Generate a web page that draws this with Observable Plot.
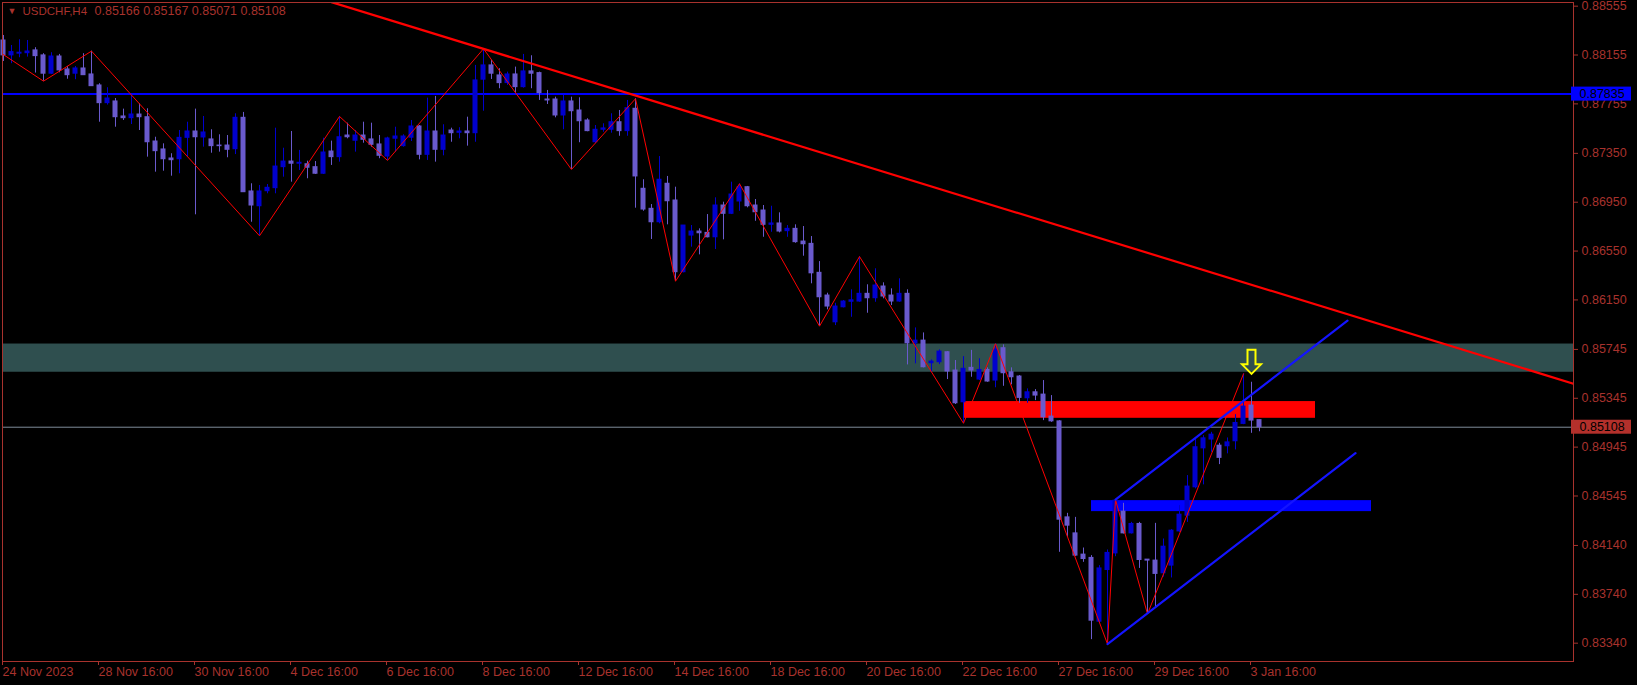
<!DOCTYPE html>
<html><head><meta charset="utf-8">
<script src="https://cdn.jsdelivr.net/npm/d3@7"></script>
<script src="https://cdn.jsdelivr.net/npm/@observablehq/plot@0.6"></script>
<style>
html,body{margin:0;padding:0;background:#000;}
#chart{width:1637px;height:685px;overflow:hidden;}
</style></head><body><div id="chart"></div>
<script>
// ---- data (USDCHF H4, bar index 0 = 24 Nov 2023 16:00) ----
const opens = [0.88274,0.88152,0.88166,0.88170,0.88193,0.88152,0.88002,0.88143,0.88037,0.88002,
0.88045,0.87996,0.87906,0.87761,0.87775,0.87652,0.87638,0.87668,0.87646,0.87447,
0.87382,0.87308,0.87302,0.87477,0.87529,0.87480,0.87464,0.87414,0.87414,0.87384,
0.87641,0.87038,0.86917,0.87040,0.87065,0.87237,0.87283,0.87265,0.87261,0.87237,
0.87183,0.87365,0.87319,0.87496,0.87453,0.87496,0.87464,0.87423,0.87324,0.87470,
0.87409,0.87478,0.87570,0.87338,0.87529,0.87379,0.87537,0.87518,0.87529,0.87515,
0.87953,0.88070,0.87988,0.87925,0.87996,0.87892,0.88021,0.88007,0.87791,0.87791,
0.87660,0.87775,0.87701,0.87619,0.87441,0.87543,0.87543,0.87605,0.87532,0.87715,
0.87060,0.86896,0.86786,0.87101,0.86964,0.86377,0.86677,0.86710,0.86699,0.86663,
0.86923,0.86855,0.86956,0.87073,0.86923,0.86882,0.86765,0.86776,0.86713,0.86732,
0.86628,0.86609,0.86372,0.86186,0.85967,0.86090,0.86135,0.86137,0.86200,0.86164,
0.86260,0.86186,0.86137,0.86200,0.85795,0.85817,0.85632,0.85640,0.85722,0.85572,
0.85312,0.85594,0.85498,0.85577,0.85490,0.85755,0.85558,0.85523,0.85345,0.85394,
0.85375,0.85195,0.85156,0.84370,0.84239,0.84065,0.84038,0.83516,0.83939,0.84075,
0.84417,0.84239,0.84316,0.84024,0.84016,0.83912,0.83975,0.84255,0.84384,0.84616,
0.84935,0.85007,0.84957,0.84952,0.84993,0.85135,0.85285,0.85166];
const highs = [0.88315,0.88233,0.88280,0.88274,0.88215,0.88166,0.88174,0.88160,0.88061,0.88061,
0.88166,0.88187,0.87920,0.87887,0.87799,0.87712,0.87832,0.87756,0.87715,0.87482,
0.87428,0.87347,0.87537,0.87605,0.87712,0.87652,0.87543,0.87502,0.87496,0.87674,
0.87685,0.87101,0.87087,0.87095,0.87556,0.87392,0.87529,0.87374,0.87286,0.87283,
0.87474,0.87450,0.87652,0.87597,0.87537,0.87605,0.87597,0.87496,0.87482,0.87564,
0.87502,0.87619,0.87578,0.87802,0.87816,0.87584,0.87556,0.87560,0.87646,0.88070,
0.88206,0.88111,0.88043,0.88015,0.88056,0.88160,0.88149,0.88015,0.87865,0.87810,
0.87824,0.87810,0.87805,0.87633,0.87578,0.87592,0.87674,0.87701,0.87783,0.87797,
0.87134,0.86931,0.87324,0.87161,0.87073,0.86759,0.86759,0.86732,0.86849,0.86986,
0.86950,0.87114,0.87101,0.87079,0.86972,0.86923,0.86917,0.86863,0.86759,0.86765,
0.86751,0.86669,0.86464,0.86205,0.86123,0.86145,0.86233,0.86505,0.86274,0.86405,
0.86290,0.86241,0.86323,0.86233,0.85921,0.85880,0.85659,0.85741,0.85727,0.85654,
0.85686,0.85737,0.85668,0.85594,0.85791,0.85782,0.85594,0.85531,0.85422,0.85416,
0.85490,0.85367,0.85162,0.84403,0.84370,0.84119,0.84057,0.83975,0.84103,0.84515,
0.84485,0.84329,0.84329,0.84024,0.84321,0.84193,0.84270,0.84466,0.84712,0.85012,
0.85039,0.85066,0.84976,0.85020,0.85211,0.85545,0.85476,0.85167];
const lows = [0.88102,0.88084,0.88133,0.88138,0.88007,0.87941,0.87996,0.88010,0.87957,0.87953,
0.87988,0.87898,0.87605,0.87745,0.87564,0.87619,0.87586,0.87537,0.87319,0.87196,
0.87204,0.87163,0.87183,0.87319,0.86847,0.87401,0.87351,0.87360,0.87314,0.87340,
0.87030,0.86786,0.86675,0.87019,0.87019,0.87155,0.87114,0.87210,0.87142,0.87177,
0.87177,0.87251,0.87278,0.87469,0.87360,0.87433,0.87401,0.87306,0.87292,0.87360,
0.87401,0.87447,0.87297,0.87292,0.87278,0.87330,0.87441,0.87469,0.87409,0.87441,
0.87695,0.87955,0.87879,0.87906,0.87843,0.87884,0.87879,0.87783,0.87750,0.87641,
0.87543,0.87218,0.87437,0.87527,0.87428,0.87523,0.87515,0.87490,0.87490,0.86901,
0.86876,0.86645,0.86773,0.86765,0.86303,0.86372,0.86582,0.86519,0.86658,0.86563,
0.86642,0.86849,0.86876,0.86904,0.86794,0.86663,0.86704,0.86699,0.86663,0.86614,
0.86508,0.86282,0.85935,0.86069,0.85940,0.86085,0.86008,0.86131,0.86041,0.86131,
0.86159,0.86104,0.86131,0.85618,0.85627,0.85594,0.85558,0.85621,0.85498,0.85294,
0.85140,0.85517,0.85490,0.85476,0.85431,0.85443,0.85455,0.85304,0.85304,0.85326,
0.85162,0.85148,0.84084,0.84206,0.84051,0.84002,0.83369,0.83510,0.83333,0.84048,
0.84234,0.84234,0.83952,0.83579,0.83628,0.83880,0.83874,0.84247,0.84329,0.84603,
0.84636,0.84903,0.84802,0.84890,0.84922,0.85129,0.85058,0.85071];
const closes = [0.88152,0.88179,0.88174,0.88184,0.88146,0.88002,0.88143,0.88029,0.87990,0.88045,
0.87990,0.87900,0.87761,0.87799,0.87646,0.87638,0.87668,0.87646,0.87441,0.87368,
0.87302,0.87294,0.87477,0.87529,0.87482,0.87521,0.87409,0.87409,0.87379,0.87641,
0.87032,0.86923,0.87038,0.87068,0.87242,0.87283,0.87265,0.87273,0.87232,0.87183,
0.87357,0.87319,0.87482,0.87482,0.87496,0.87461,0.87420,0.87330,0.87472,0.87488,
0.87488,0.87570,0.87338,0.87529,0.87379,0.87496,0.87515,0.87529,0.87515,0.87947,
0.88070,0.88002,0.87925,0.87996,0.87892,0.88021,0.88002,0.87843,0.87783,0.87660,
0.87775,0.87695,0.87613,0.87532,0.87543,0.87554,0.87605,0.87532,0.87720,0.87161,
0.86890,0.86786,0.87134,0.86958,0.86377,0.86759,0.86710,0.86696,0.86663,0.86923,
0.86855,0.87013,0.87073,0.86917,0.86868,0.86765,0.86776,0.86710,0.86732,0.86623,
0.86606,0.86368,0.86172,0.86096,0.86096,0.86137,0.86147,0.86200,0.86164,0.86268,
0.86178,0.86137,0.86200,0.85795,0.85817,0.85599,0.85645,0.85727,0.85564,0.85304,
0.85586,0.85572,0.85577,0.85482,0.85744,0.85550,0.85517,0.85348,0.85394,0.85367,
0.85189,0.85156,0.84351,0.84302,0.84057,0.84029,0.83524,0.83952,0.84079,0.84507,
0.84239,0.84316,0.84021,0.84016,0.83907,0.84130,0.84261,0.84392,0.84622,0.84944,
0.85017,0.85047,0.84857,0.84984,0.85143,0.85277,0.85162,0.85108];

const symbolName = "USDCHF,H4";
const yTicks = [0.88555,0.88155,0.87755,0.87350,0.86950,0.86550,0.86150,0.85745,0.85345,0.84945,0.84545,0.84140,0.83740,0.83340];
const xTickIdx = [0,12,24,36,48,60,72,84,96,108,120,132,144,156];
const xTickLabels = ["24 Nov 2023","28 Nov 16:00","30 Nov 16:00","4 Dec 16:00","6 Dec 16:00","8 Dec 16:00","12 Dec 16:00","14 Dec 16:00","18 Dec 16:00","20 Dec 16:00","22 Dec 16:00","27 Dec 16:00","29 Dec 16:00","3 Jan 16:00"];

// zigzag vertices (bar index, price)
const zzIdx   = [-1,5,11,32,42,48,60,71,79,84,92,102,107,120,124,138,139,143,155];
const zzPrice = [0.88201,0.87941,0.88187,0.86675,0.87652,0.87292,0.88206,0.87218,0.87797,0.86303,0.87101,0.85935,0.86505,0.85140,0.85791,0.83333,0.84515,0.83579,0.85545];

// drawn objects
const trendIdx = [41,197], trendPrice = [0.88588,0.85449];
const hLinePrice = 0.87835;
const lastPrice = 0.85108;
const zoneLo = 0.85558, zoneHi = 0.85789;
const redBoxIdx = [120,164], redBoxPrice = [0.85181,0.85318];
const blueBoxIdx = [136,171], blueBoxPrice = [0.84417,0.84507];
const chanLowIdx = [138,169], chanLowPrice = [0.83333,0.84895];
const chanUpIdx = [139,168], chanUpPrice = [0.84515,0.85981];
const arrowIdx = 156, arrowPrice = 0.85545;

// ---- build ----
const bullC = "#0000cd", bearC = "#6a5acd", axisC = "#a8322d";
const bars = opens.map((o,i)=>({i, o, h:highs[i], l:lows[i], c:closes[i]}));
const bull = bars.filter(d=>d.c>d.o), bear = bars.filter(d=>d.c<=d.o);
const pts = (xs,ys)=>xs.map((x,k)=>({x, y:ys[k]}));
const xDomain = [-0.125, 196.25];

const arrowSymbol = {
  draw(ctx){
    ctx.moveTo(0,0); ctx.lineTo(-9.5,-9.5); ctx.lineTo(-4,-9.5); ctx.lineTo(-4,-24);
    ctx.lineTo(4,-24); ctx.lineTo(4,-9.5); ctx.lineTo(9.5,-9.5); ctx.closePath();
  }
};

const chart = Plot.plot({
  width: 1637, height: 685,
  marginLeft: 2, marginRight: 64, marginTop: 2, marginBottom: 24,
  x: {type:"linear", domain: xDomain},
  y: {type:"linear", domain: [0.83190, 0.88585]},
  style: {background:"#000", fontFamily:"'Liberation Sans', Arial, sans-serif", fontSize:"12.5px", overflow:"visible"},
  marks: [
    Plot.rect([{lo:zoneLo, hi:zoneHi}], {y1:"lo", y2:"hi", fill:"#2f4f4f"}),
    Plot.ruleY([hLinePrice], {stroke:"#0000ff", strokeWidth:2}),
    Plot.ruleY([lastPrice], {stroke:"#7f8c9a", strokeWidth:1}),
    Plot.rect([{a:redBoxIdx[0], b:redBoxIdx[1], lo:redBoxPrice[0], hi:redBoxPrice[1]}], {x1:"a", x2:"b", y1:"lo", y2:"hi", fill:"#ff0000"}),
    Plot.rect([{a:blueBoxIdx[0], b:blueBoxIdx[1], lo:blueBoxPrice[0], hi:blueBoxPrice[1]}], {x1:"a", x2:"b", y1:"lo", y2:"hi", fill:"#0000ff"}),
    Plot.ruleX(bear, {x:"i", y1:"l", y2:"h", stroke:bearC, strokeWidth:1}),
    Plot.ruleX(bull, {x:"i", y1:"l", y2:"h", stroke:bullC, strokeWidth:1}),
    Plot.rect(bear, {x1:"i", x2:"i", y1:"o", y2:"c", insetLeft:-2.5, insetRight:-2.5, insetTop:-0.5, insetBottom:-0.5, fill:bearC}),
    Plot.rect(bull, {x1:"i", x2:"i", y1:"o", y2:"c", insetLeft:-2.5, insetRight:-2.5, insetTop:-0.5, insetBottom:-0.5, fill:bullC}),
    Plot.line(pts(zzIdx, zzPrice), {x:"x", y:"y", stroke:"#ff0000", strokeWidth:1, clip:true}),
    Plot.line(pts(trendIdx, trendPrice), {x:"x", y:"y", stroke:"#ff0000", strokeWidth:2.2, clip:true}),
    Plot.line(pts(chanLowIdx, chanLowPrice), {x:"x", y:"y", stroke:"#1414ff", strokeWidth:2.2, clip:true}),
    Plot.line(pts(chanUpIdx, chanUpPrice), {x:"x", y:"y", stroke:"#1414ff", strokeWidth:2.2, clip:true}),
    Plot.dot([{x:arrowIdx, y:arrowPrice}], {x:"x", y:"y", r:5, symbol:arrowSymbol, stroke:"#ffff00", fill:"none", strokeWidth:2}),
    Plot.frame({stroke: axisC}),
    Plot.axisY(yTicks, {anchor:"right", tickSize:4, tickPadding:4, tickFormat:d=>d.toFixed(5), color:axisC, label:null}),
    Plot.axisX(xTickIdx, {anchor:"bottom", tickSize:4, tickPadding:2, tickFormat:d=>xTickLabels[xTickIdx.indexOf(d)], textAnchor:"start", dx:-1, color:axisC, label:null}),
    // right-side price labels
    Plot.rect([{p:hLinePrice}], {x1:()=>xDomain[1], x2:()=>xDomain[1], y1:"p", y2:"p", insetLeft:-2, insetRight:-58, insetTop:-7, insetBottom:-7, fill:"#0000ff"}),
    Plot.text([{p:hLinePrice}], {x:()=>xDomain[1], y:"p", text:d=>d.p.toFixed(5), dx:6, textAnchor:"start", fill:"#000", fontSize:12.5}),
    Plot.rect([{p:lastPrice}], {x1:()=>xDomain[1], x2:()=>xDomain[1], y1:"p", y2:"p", insetLeft:-2, insetRight:-58, insetTop:-7, insetBottom:-7, fill:"#b3302b"}),
    Plot.text([{p:lastPrice}], {x:()=>xDomain[1], y:"p", text:d=>d.p.toFixed(5), dx:6, textAnchor:"start", fill:"#000", fontSize:12.5}),
    // header
    Plot.text(["▼"], {frameAnchor:"top-left", dx:5, dy:5, textAnchor:"start", lineAnchor:"top", fill:axisC, fontSize:9}),
    Plot.text([symbolName], {frameAnchor:"top-left", dx:20, dy:4, textAnchor:"start", lineAnchor:"top", fill:axisC, fontSize:11.5}),
    Plot.text([[opens[157],highs[157],lows[157],closes[157]].map(v=>v.toFixed(5)).join(" ")], {frameAnchor:"top-left", dx:92, dy:4, textAnchor:"start", lineAnchor:"top", fill:axisC, fontSize:12.5})
  ]
});
document.getElementById("chart").appendChild(chart);
</script></body></html>
